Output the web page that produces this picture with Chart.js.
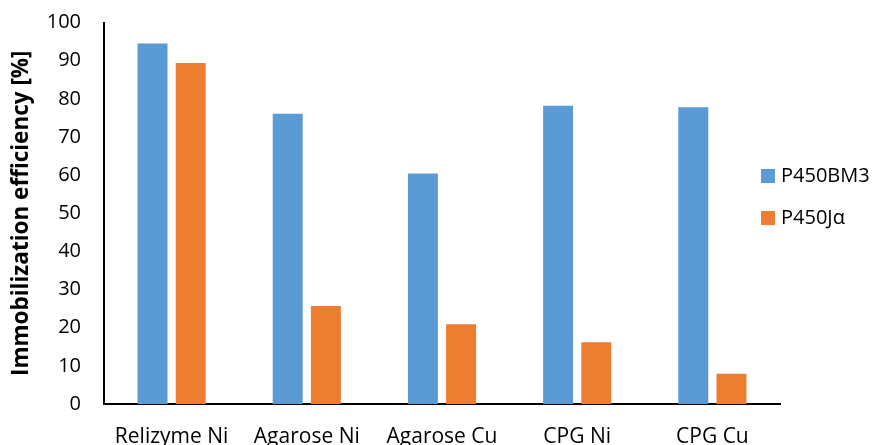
<!DOCTYPE html>
<html>
<head>
<meta charset="utf-8">
<script src="https://cdn.jsdelivr.net/npm/chart.js@4/dist/chart.umd.min.js"></script>
<style>
  html, body { margin: 0; padding: 0; background: #fff; overflow: hidden; }
  #wrap { width: 876px; height: 445px; overflow: hidden; }
  canvas { display: block; }
</style>
</head>
<body>
<div id="wrap"><canvas id="c" width="876" height="462"></canvas></div>
<script>
// Immobilization efficiency of two P450 enzymes on different carriers
const categories = ['Relizyme Ni', 'Agarose Ni', 'Agarose Cu', 'CPG Ni', 'CPG Cu'];
const seriesNames = ['P450BM3', 'P450J\u03B1'];
const bm3Values = [94.5, 76.1, 60.4, 78.2, 77.8];
const jaValues = [89.4, 25.7, 20.9, 16.2, 7.9];
const yTicks = [0, 10, 20, 30, 40, 50, 60, 70, 80, 90, 100];

const FONT = "'Open Sans', 'Liberation Sans', sans-serif";

// Legend drawn as a stacked list beside the plot
const sideLegend = {
  id: 'sideLegend',
  afterDraw(chart) {
    const ctx = chart.ctx;
    ctx.save();
    ctx.font = '20px ' + FONT;
    ctx.textBaseline = 'middle';
    ctx.textAlign = 'left';
    chart.data.datasets.forEach((ds, i) => {
      const cy = 176 + i * 42;
      ctx.fillStyle = ds.backgroundColor;
      ctx.fillRect(761, cy - 7, 14, 14);
      ctx.fillStyle = '#000';
      ctx.fillText(ds.label, 781, cy);
    });
    ctx.restore();
  }
};

// Let the layout padding alone decide the plot edges
function noOverhang(scale) {
  scale.paddingTop = 0;
  scale.paddingBottom = 0;
  scale.paddingLeft = 0;
  scale.paddingRight = 0;
}

new Chart(document.getElementById('c'), {
  type: 'bar',
  data: {
    labels: categories,
    datasets: [
      { label: seriesNames[0], data: bm3Values, backgroundColor: '#5B9BD5' },
      { label: seriesNames[1], data: jaValues, backgroundColor: '#ED7D31' }
    ]
  },
  options: {
    responsive: false,
    animation: false,
    layout: { padding: { top: 22.5, right: 96, left: 0, bottom: 0 } },
    datasets: { bar: { categoryPercentage: 0.565, barPercentage: 0.785 } },
    plugins: { legend: { display: false }, tooltip: { enabled: false } },
    scales: {
      x: {
        grid: { display: false, drawTicks: false },
        border: { color: '#000', width: 2 },
        ticks: { color: '#000', font: { family: FONT, size: 21 }, padding: 20, maxRotation: 0 },
        afterFit(scale) { scale.height = 462 - 404; noOverhang(scale); }
      },
      y: {
        min: 0,
        max: 100,
        afterBuildTicks(scale) { scale.ticks = yTicks.map(v => ({ value: v })); },
        grid: { display: false, drawTicks: false },
        border: { color: '#000', width: 2 },
        ticks: { color: '#000', font: { family: FONT, size: 20 }, padding: 23 },
        title: {
          display: true,
          text: 'Immobilization efficiency [%]',
          color: '#000',
          font: { family: FONT, size: 22.5, weight: 'bold' },
          padding: { top: 8, bottom: 0 }
        },
        afterFit(scale) { scale.width = 104; noOverhang(scale); }
      }
    }
  },
  plugins: [sideLegend]
});
</script>
</body>
</html>
